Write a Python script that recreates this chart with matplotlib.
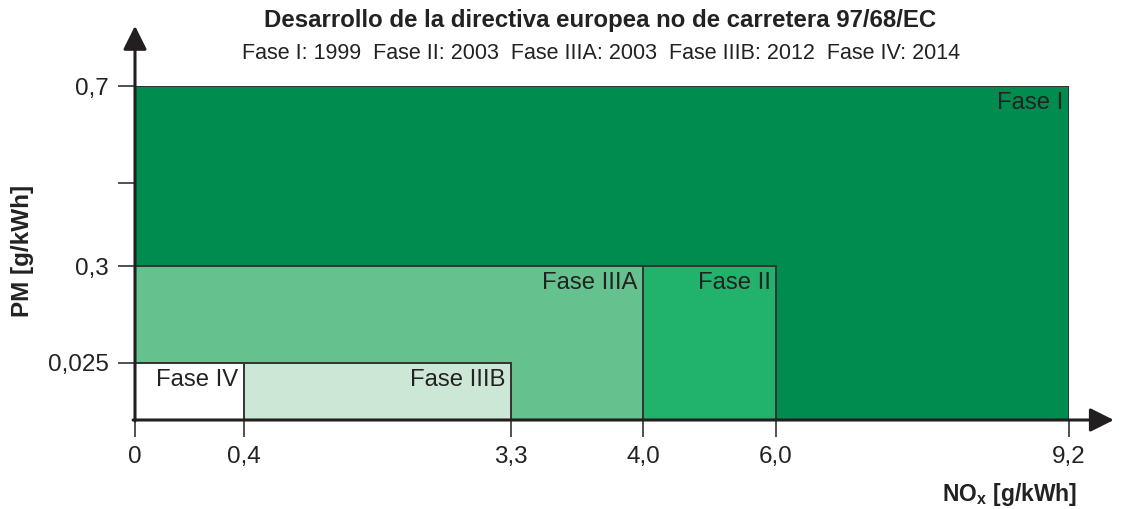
import numpy as np
import matplotlib
matplotlib.use('Agg')
import matplotlib.pyplot as plt

plt.rcParams['font.family'] = ['Liberation Sans', 'DejaVu Sans']
plt.rcParams['mathtext.fontset'] = 'custom'
plt.rcParams['mathtext.rm'] = 'Liberation Sans'
plt.rcParams['mathtext.bf'] = 'Liberation Sans:bold'

# data
fases = ['Fase I', 'Fase II', 'Fase IIIA', 'Fase IIIB', 'Fase IV']
nox = [9.2, 6.0, 4.0, 3.3, 0.4]
pm = [0.7, 0.3, 0.3, 0.025, 0.025]
colores = ['#008c4e', '#21b26b', '#65c28f', '#cde7d6', '#ffffff']
x_ticks = [0, 0.4, 3.3, 4.0, 6.0, 9.2]
x_labels = ['0', '0,4', '3,3', '4,0', '6,0', '9,2']
y_ticks = [0.025, 0.3, 0.5, 0.7]
y_labels = ['0,025', '0,3', '', '0,7']
titulo = 'Desarrollo de la directiva europea no de carretera 97/68/EC'
subtitulo = 'Fase I: 1999  Fase II: 2003  Fase IIIA: 2003  Fase IIIB: 2012  Fase IV: 2014'

# non-linear axes (pixel layout of the original)
x_pos = [0, 109, 376, 508, 641, 934]
y_vals = [0, 0.025, 0.3, 0.5, 0.7]
y_pos = [0, 57, 154, 237, 334]

fig = plt.figure(figsize=(11.28, 5.09), dpi=100)
ax = fig.add_axes([135 / 1128, 89 / 509, 934 / 1128, 334 / 509])

ax.set_xscale('function', functions=(lambda v: np.interp(v, x_ticks, x_pos),
                                     lambda p: np.interp(p, x_pos, x_ticks)))
ax.set_yscale('function', functions=(lambda v: np.interp(v, y_vals, y_pos),
                                     lambda p: np.interp(p, y_pos, y_vals)))

for f, x, y, c in zip(fases, nox, pm, colores):
    ax.bar(0, y, width=x, align='edge', color=c, edgecolor='#333333', linewidth=1.4)
    ax.annotate(f, xy=(x, y), xytext=(-4, -4), textcoords='offset points',
                ha='right', va='top', fontsize=17.2, color='#222222')

ax.set_xlim(0, 9.2)
ax.set_ylim(0, 0.7)
ax.set_xticks(x_ticks)
ax.set_xticklabels(x_labels)
ax.set_yticks(y_ticks)
ax.set_yticklabels(y_labels)
ax.tick_params(axis='both', length=12, width=1.2, color='#333333',
               labelsize=17.5, labelcolor='#222222', pad=7)
ax.minorticks_off()
for s in ax.spines.values():
    s.set_visible(False)

arrow = dict(arrowstyle='-|>', mutation_scale=36, lw=2.2, color='#231f20',
             shrinkA=0, shrinkB=0)
ax.annotate('', xy=(1.048, 0), xytext=(-0.002, 0), xycoords='axes fraction',
            arrowprops=arrow, annotation_clip=False)
ax.annotate('', xy=(0, 1.18), xytext=(0, -0.003), xycoords='axes fraction',
            arrowprops=arrow, annotation_clip=False)

fig.text(600 / 1128, 1 - 20 / 509, titulo, ha='center', va='center',
         fontsize=17.3, fontweight='bold', color='#222222')
fig.text(601 / 1128, 1 - 53 / 509, subtitulo, ha='center', va='center',
         fontsize=15.5, color='#222222')
fig.text(22 / 1128, 1 - 251 / 509, 'PM [g/kWh]', rotation=90, ha='center', va='center',
         fontsize=17.5, fontweight='bold', color='#222222')
fig.text(1077 / 1128, 1 - 494 / 509, r'NO$_\mathbf{x}$ [g/kWh]', ha='right', va='center',
         fontsize=16.5, fontweight='bold', color='#222222')

fig.savefig('out.png', dpi=100)
